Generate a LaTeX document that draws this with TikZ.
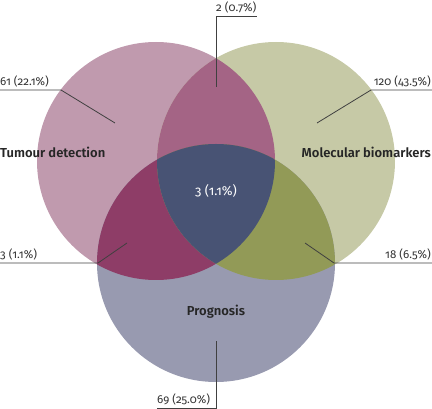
\documentclass[tikz,border=0pt]{standalone}
\usepackage{fontspec}
\setmainfont[Numbers=OldStyle, BoldFont={Fira Sans SemiBold}]{Fira Sans}
\definecolor{tumourcol}{RGB}{192,154,174}
\definecolor{moleccol}{RGB}{198,201,166}
\definecolor{progcol}{RGB}{152,154,176}
\definecolor{tmcol}{RGB}{164,100,133}
\definecolor{tpcol}{RGB}{142,61,103}
\definecolor{mpcol}{RGB}{146,154,87}
\definecolor{allcol}{RGB}{72,83,116}
\begin{document}
\begin{tikzpicture}[x=1pt, y=-1pt,
		every node/.style={font=\fontsize{11.5}{13}\selectfont, text=black!80, inner xsep=0pt, inner ysep=3pt},
		title/.style={font=\fontsize{13}{15}\selectfont\bfseries, text=black!85},
		lead/.style={draw=black!75, line width=0.8pt}]
		\useasboundingbox (0,0) rectangle (432,409);
		\coordinate (cT) at (156,161);
		\coordinate (cM) at (276,161);
		\coordinate (cP) at (216,263);
		% circles
		\fill[tumourcol] (cT) circle (119pt);
		\fill[moleccol] (cM) circle (119pt);
		\fill[progcol] (cP) circle (119pt);
		% overlaps
		\begin{scope}
			\clip (cT) circle (119pt);
			\fill[tmcol] (cM) circle (119pt);
			\fill[tpcol] (cP) circle (119pt);
		\end{scope}
		\begin{scope}
			\clip (cM) circle (119pt);
			\fill[mpcol] (cP) circle (119pt);
			\clip (cP) circle (119pt);
			\fill[allcol] (cT) circle (119pt);
		\end{scope}
		% set names
		\node[title, anchor=west] (tumour) at (0,152) {Tumour detection};
		\node[title, anchor=east] (molec) at (431,152) {Molecular biomarkers};
		\node[title] (progn) at (216,312) {Prognosis};
		\node[text=white, font=\fontsize{13}{15}\selectfont] (all) at (216,191) {3 (1.1\%)};
		% counts
		\node[anchor=south west] (n2) at (216,16) {2 (0.7\%)};
		\node[anchor=south west] (n61) at (0,90) {61 (22.1\%)};
		\node[anchor=south east] (n120) at (431,90) {120 (43.5\%)};
		\node[anchor=south west] (n3) at (0,263) {3 (1.1\%)};
		\node[anchor=south east] (n18) at (431,263) {18 (6.5\%)};
		\node[anchor=south west] (n69) at (157,408) {69 (25.0\%)};
		\coordinate (e2) at (216,87);
		\coordinate (e61) at (115,123);
		\coordinate (e120) at (317,123);
		\coordinate (e3) at (127,243);
		\coordinate (e18) at (305,243);
		\coordinate (e69) at (216,341);
		\draw[lead] (n2.south east) -- (n2.south west) -- (e2);
		\draw[lead] (n61.south west) -- (61,90) -- (e61);
		\draw[lead] (432,90) -- (371,90) -- (e120);
		\draw[lead] (n3.south west) -- (98,263) -- (e3);
		\draw[lead] (432,263) -- (334,263) -- (e18);
		\draw[lead] (n69.south west) -- (216,408) -- (e69);
	\end{tikzpicture}
\end{document}
